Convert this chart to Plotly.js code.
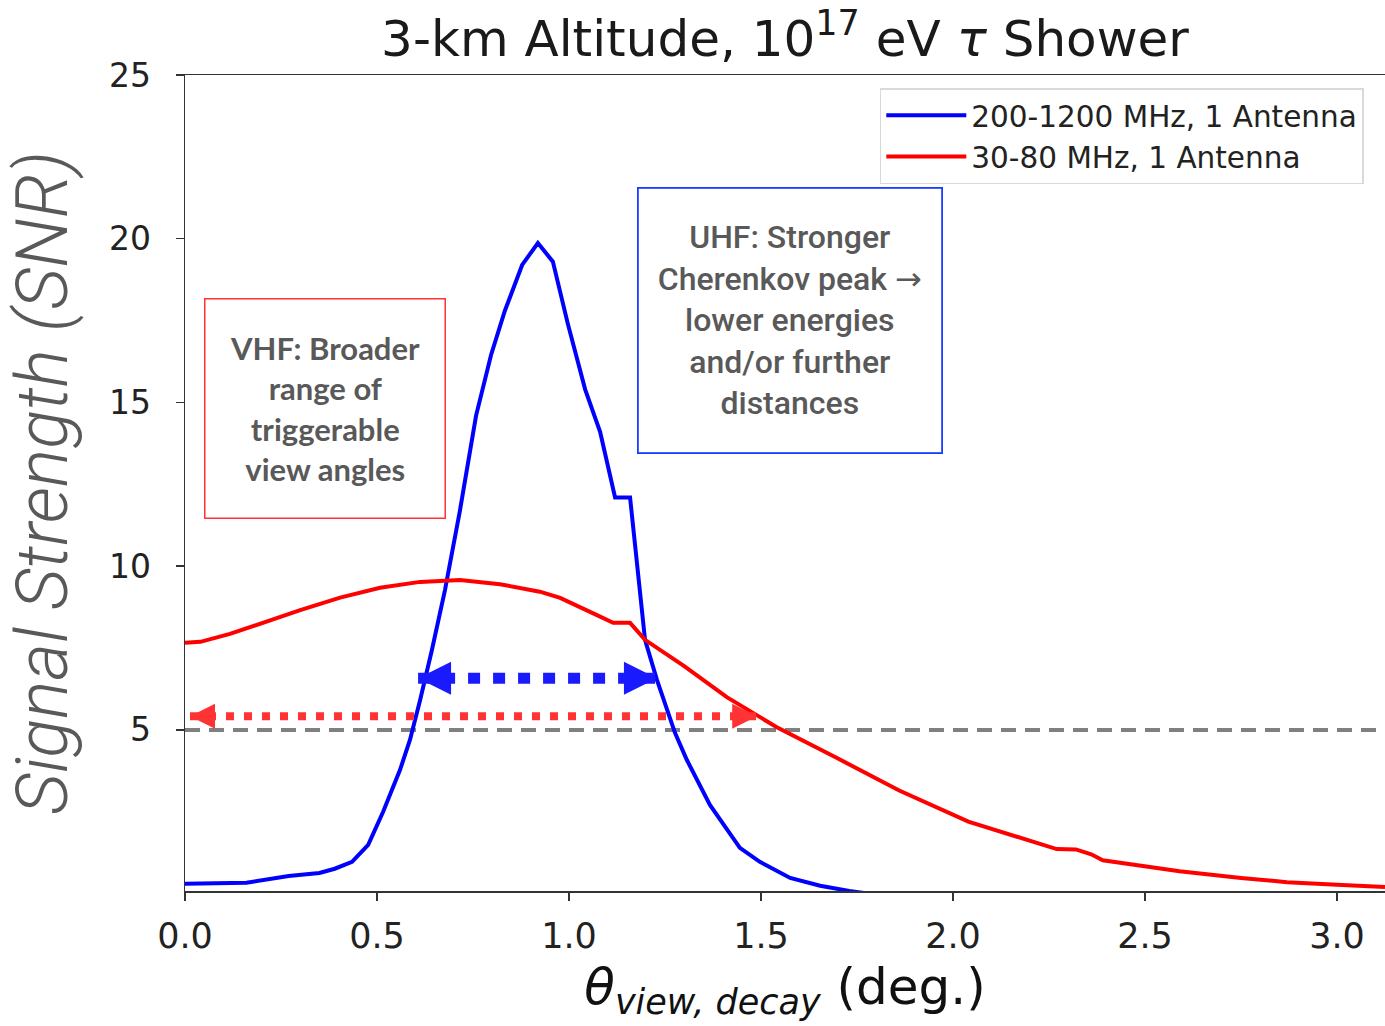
<!DOCTYPE html>
<html>
<head>
<meta charset="utf-8">
<script src="https://cdn.plot.ly/plotly-3.0.1.min.js"></script>
<style>html,body{margin:0;padding:0;background:#fff;}#chart{width:1385px;height:1026px;}</style>
</head>
<body>
<div id="chart"></div>
<script>
// ---- data ----
const uhfName = "200-1200 MHz, 1 Antenna";
const vhfName = "30-80 MHz, 1 Antenna";

const uhfX = [0.00, 0.08, 0.16, 0.27, 0.35, 0.39, 0.435, 0.477, 0.516, 0.56, 0.586, 0.612, 0.643, 0.677, 0.716, 0.758, 0.797, 0.833, 0.878, 0.919, 0.958, 0.997, 1.042, 1.081, 1.12, 1.159, 1.198, 1.229, 1.276, 1.307, 1.367, 1.445, 1.497, 1.576, 1.654, 1.73, 1.78];
const uhfY = [0.30, 0.33, 0.33, 0.54, 0.63, 0.76, 0.97, 1.49, 2.5, 3.78, 4.7, 5.9, 7.44, 9.27, 11.7, 14.6, 16.45, 17.8, 19.2, 19.87, 19.3, 17.4, 15.4, 14.1, 12.1, 12.1, 7.75, 6.53, 4.91, 4.08, 2.71, 1.4, 0.97, 0.48, 0.24, 0.08, 0.0];

const vhfX = [0.00, 0.04, 0.117, 0.195, 0.30, 0.404, 0.508, 0.612, 0.716, 0.82, 0.924, 0.977, 1.029, 1.07, 1.115, 1.159, 1.198, 1.30, 1.411, 1.54, 1.698, 1.86, 2.04, 2.12, 2.23, 2.27, 2.32, 2.36, 2.39, 2.45, 2.59, 2.75, 2.87, 3.0, 3.125];
const vhfY = [7.66, 7.69, 7.93, 8.24, 8.66, 9.04, 9.34, 9.52, 9.58, 9.45, 9.22, 9.03, 8.76, 8.52, 8.27, 8.27, 7.75, 6.95, 6.0, 5.09, 4.14, 3.15, 2.2, 1.9, 1.5, 1.36, 1.35, 1.2, 1.02, 0.92, 0.68, 0.48, 0.35, 0.27, 0.2];

const thresholdX = [0, 3.125];
const thresholdY = [5, 5];

const uhfRangeX = [0.607, 1.229];
const uhfRangeY = [6.58, 6.58];
const vhfRangeX = [0.013, 1.49];
const vhfRangeY = [5.42, 5.42];

const xTicks = [0, 0.5, 1.0, 1.5, 2.0, 2.5, 3.0];
const xTickLabels = ["0.0", "0.5", "1.0", "1.5", "2.0", "2.5", "3.0"];
const yTicks = [5, 10, 15, 20, 25];
const yTickLabels = ["5", "10", "15", "20", "25"];

const titleText = "3-km Altitude, 10<sup>17</sup> eV <i>\u03c4</i> Shower";
const xTitleText = "<i>\u03b8</i><sub><i>view, decay</i></sub> (deg.)";
const yTitleText = "Signal Strength (SNR)";
const vhfNote = "VHF: Broader<br>range of<br>triggerable<br>view angles";
const uhfNote = "UHF: Stronger<br>Cherenkov peak <span style=\"font-family:'DejaVu Sans'\">\u2192</span><br>lower energies<br>and/or further<br>distances";

// ---- traces ----
const traces = [
  {x: thresholdX, y: thresholdY, mode: "lines", showlegend: false, hoverinfo: "skip",
   line: {color: "#808080", width: 4, dash: "15px,9px"}},
  {x: uhfX, y: uhfY, mode: "lines", name: uhfName, line: {color: "#0000ff", width: 4}},
  {x: vhfX, y: vhfY, mode: "lines", name: vhfName, line: {color: "#ff0000", width: 4}},
  {x: uhfRangeX, y: uhfRangeY, mode: "lines+markers", showlegend: false, hoverinfo: "skip",
   line: {color: "#1a1aff", width: 11, dash: "12px,13px", backoff: 0},
   marker: {symbol: ["arrow-left", "arrow-right"], size: 33, color: "#1a1aff"}},
  {x: vhfRangeX, y: vhfRangeY, mode: "lines+markers", showlegend: false, hoverinfo: "skip",
   line: {color: "#ff3333", width: 8, dash: "8px,10px", backoff: 0},
   marker: {symbol: ["arrow-left", "arrow-right"], size: 25, color: "#ff3333"}}
];

const layout = {
  width: 1385, height: 1026,
  margin: {l: 185, r: 0, t: 75, b: 135, pad: 0},
  paper_bgcolor: "#fff", plot_bgcolor: "#fff",
  title: {text: titleText, x: 0.5, xref: "paper", xanchor: "center",
          y: 0.962, yref: "container", yanchor: "middle",
          font: {family: "DejaVu Sans", size: 50, color: "#1a1a1a"}},
  xaxis: {range: [0, 3.125], tickvals: xTicks, ticktext: xTickLabels,
          ticks: "outside", ticklen: 8, tickwidth: 1.5, tickcolor: "#333",
          ticklabelstandoff: 5,
          showline: true, linecolor: "#333", linewidth: 1.5, mirror: true,
          showgrid: false, zeroline: false,
          tickfont: {family: "DejaVu Sans", size: 35, color: "#222"},
          title: {text: xTitleText, standoff: 14,
                  font: {family: "DejaVu Sans", size: 50, color: "#111"}}},
  yaxis: {range: [0.08, 25], tickvals: yTicks, ticktext: yTickLabels,
          ticks: "outside", ticklen: 8, tickwidth: 1.5, tickcolor: "#333",
          ticklabelstandoff: 18,
          showline: true, linecolor: "#333", linewidth: 1.5, mirror: false,
          showgrid: false, zeroline: false,
          tickfont: {family: "DejaVu Sans", size: 33, color: "#222"},
          title: {text: yTitleText, standoff: 19,
                  font: {family: "Roboto", size: 72, color: "#595959", style: "italic", weight: 300}}},
  legend: {x: 0.579, y: 0.984, xanchor: "left", yanchor: "top",
           bgcolor: "#fff", bordercolor: "#d9d9d9", borderwidth: 1.5,
           font: {family: "DejaVu Sans", size: 29.5, color: "#222"},
           itemwidth: 80, tracegroupgap: 0},
  showlegend: true,
  annotations: [
    {xref: "paper", yref: "paper", x: 0.0158, y: 0.7267, xanchor: "left", yanchor: "top",
     text: vhfNote, showarrow: false, align: "center", valign: "middle",
     width: 239, height: 218, borderpad: 0, bordercolor: "#ff3333", borderwidth: 1.5,
     bgcolor: "rgba(255,255,255,0)",
     font: {family: "Lato", size: 31, color: "#595959", weight: 700}},
    {xref: "paper", yref: "paper", x: 0.3767, y: 0.8627, xanchor: "left", yanchor: "top",
     text: uhfNote, showarrow: false, align: "center", valign: "middle",
     width: 302, height: 263, borderpad: 0, bordercolor: "#1a3cff", borderwidth: 1.8,
     bgcolor: "rgba(255,255,255,0)",
     font: {family: "Roboto", size: 32, color: "#595959", weight: 500}}
  ]
};

Plotly.newPlot("chart", traces, layout, {displayModeBar: false, staticPlot: true});
</script>
</body>
</html>
